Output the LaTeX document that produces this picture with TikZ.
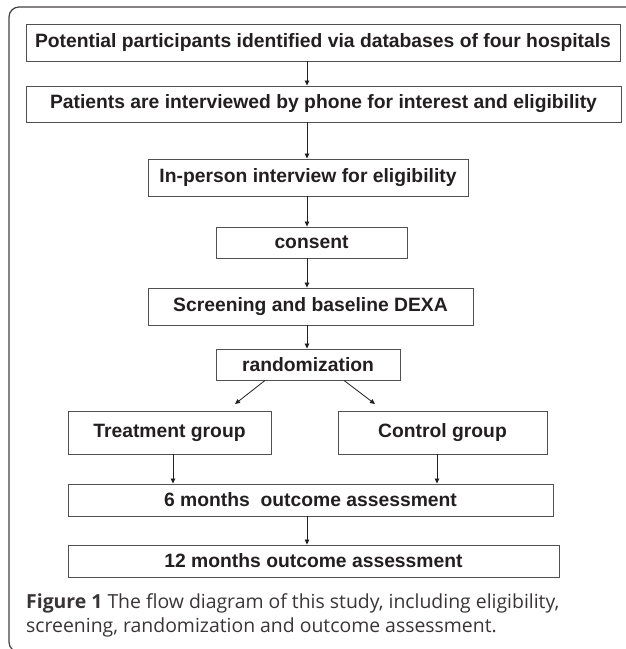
\documentclass[tikz,border=0pt]{standalone}
\usepackage{fontspec}
\setmainfont{Liberation Sans}
\newfontfamily\capfont{Open Sans}
\usetikzlibrary{arrows.meta}
\definecolor{boxgray}{RGB}{80,80,80}
\definecolor{ink}{RGB}{35,31,32}
\tikzset{
  stepbox/.style={draw=boxgray,line width=0.9pt,inner sep=0pt,text=ink,font=\fontsize{19.3}{21}\selectfont\bfseries},
  flow/.style={line width=0.8pt,draw=ink,-{Triangle[length=5pt,width=4.5pt]}},
  frame/.style={line width=1.2pt,draw=ink!85,rounded corners=10pt},
  capnote/.style={anchor=west,inner sep=0pt,text=ink!90,font=\capfont\fontsize{19.4}{24}\selectfont}
}

\begin{document}
\begin{tikzpicture}[x=1pt,y=-1pt]
  \useasboundingbox (0,0) rectangle (625,649);
  \draw[frame] (640,7) -- (9,7) -- (9,652) -- (40,652);
  % boxes, top to bottom
  \node[stepbox,minimum width=594pt,minimum height=37pt] (pot) at (323,42.5) {Potential participants identified via databases of four hospitals};
  \node[stepbox,minimum width=595pt,minimum height=36pt] (phone) at (323.5,104) {Patients are interviewed by phone for interest and eligibility};
  \node[stepbox,minimum width=320pt,minimum height=37pt] (inperson) at (308,177.5) {In-person interview for eligibility};
  \node[stepbox,minimum width=191pt,minimum height=31pt] (consent) at (311.5,242.5) {consent};
  \node[stepbox,minimum width=325pt,minimum height=37pt] (screen) at (310.5,306.5) {Screening and baseline DEXA};
  \node[stepbox,minimum width=184pt,minimum height=31pt] (rand) at (308,364.5) {randomization};
  \node[stepbox,minimum width=203pt,minimum height=43pt] (treat) at (169.5,432.5) {Treatment group};
  \node[stepbox,minimum width=209pt,minimum height=43pt] (ctrl) at (442.5,432.5) {Control group};
  \node[stepbox,minimum width=485pt,minimum height=32pt] (six) at (310.5,500) {6 months\ \ outcome assessment};
  \node[stepbox,minimum width=491pt,minimum height=32pt] (twelve) at (313.5,561) {12 months outcome assessment};
  % arrows
  \coordinate (axis) at (307,0);
  \coordinate (tl) at (235,404); \coordinate (cr) at (375,404);
  \draw[flow] (pot.south -| axis) -- (phone.north -| axis);
  \draw[flow] (phone.south -| axis) -- (inperson.north -| axis);
  \draw[flow] (inperson.south -| axis) -- (consent.north -| axis);
  \draw[flow] (consent.south -| axis) -- (screen.north -| axis);
  \draw[flow] (screen.south -| axis) -- (rand.north -| axis);
  \draw[flow] (rand.south -| 265,0) -- (tl);
  \draw[flow] (rand.south -| 344,0) -- (cr);
  \draw[flow] (treat.south -| 173,0) -- (six.north -| 173,0);
  \draw[flow] (ctrl.south -| 437,0) -- (six.north -| 437,0);
  \draw[flow] (six.south -| axis) -- (twelve.north -| axis);
  % caption
  \node[capnote] (cap1) at (26,603) {\textbf{Figure 1} The flow diagram of this study, including eligibility,};
  \node[capnote] (cap2) at (26,627) {screening, randomization and outcome assessment.};
\end{tikzpicture}
\end{document}
